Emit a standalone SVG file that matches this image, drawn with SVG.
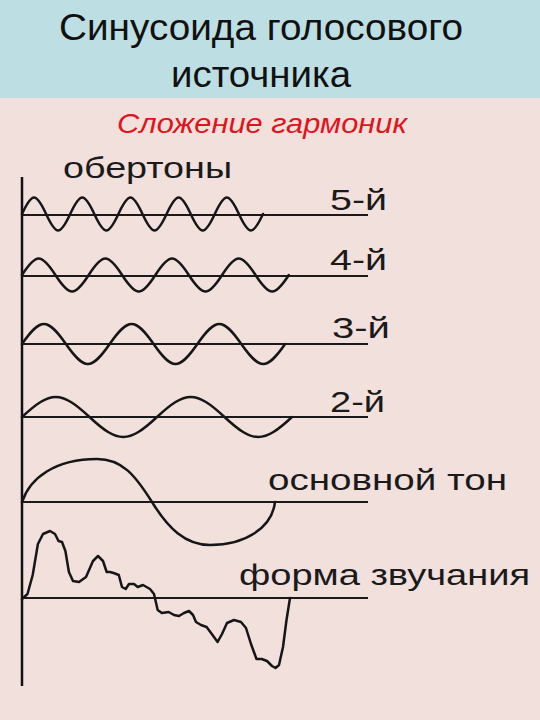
<svg xmlns="http://www.w3.org/2000/svg" width="540" height="720" viewBox="0 0 540 720">
<style>
.title{font-family:"Liberation Sans",Arial,sans-serif;font-size:37px;fill:#111}
.sub{font-family:"Liberation Sans",Arial,sans-serif;font-size:28px;font-style:italic;fill:#e0141c}
.lbl{font-family:"Liberation Sans",Arial,sans-serif;font-size:30px;fill:#1a1a1a}
.axis{stroke:#111;stroke-width:2.5;fill:none}
.base{stroke:#1a1a1a;stroke-width:2;fill:none}
.wave{stroke:#161616;stroke-width:2.5;fill:none;stroke-linejoin:round;stroke-linecap:round}
</style>
<rect x="0" y="0" width="540" height="720" fill="#f2e0dc"/>
<rect x="0" y="0" width="540" height="98" fill="#bddfe4"/>
<g id="title">
<text class="title" x="59" y="40" textLength="404" lengthAdjust="spacingAndGlyphs">Синусоида голосового</text>
<text class="title" x="171" y="87" textLength="180" lengthAdjust="spacingAndGlyphs">источника</text>
</g>
<g id="subtitle">
<text class="sub" x="117" y="133" textLength="290" lengthAdjust="spacingAndGlyphs">Сложение гармоник</text>
</g>
<g id="axis">
<line class="axis" x1="22" y1="177" x2="22" y2="686"/>
</g>
<g id="connectors">
<line class="base" x1="22" y1="215" x2="368" y2="215"/>
<line class="base" x1="22" y1="276" x2="368" y2="276"/>
<line class="base" x1="22" y1="344" x2="368" y2="344"/>
<line class="base" x1="22" y1="417" x2="368" y2="417"/>
<line class="base" x1="22" y1="502" x2="368" y2="502"/>
<line class="base" x1="22" y1="598" x2="368" y2="598"/>
</g>
<g id="overtones-label">
<text class="lbl" x="63" y="178" textLength="169" lengthAdjust="spacingAndGlyphs">обертоны</text>
</g>
<g id="harmonic5">
<path class="wave" d="M22,214 C32.2,192 35.9,192 46.1,214 S60,236 70.2,214 S84.1,192 94.3,214 S108.2,236 118.4,214 S132.3,192 142.5,214 S156.4,236 166.6,214 S180.5,192 190.7,214 S204.6,236 214.8,214 S228.7,192 238.9,214 S252.8,236 263,214"/>
<text class="lbl" x="330" y="210" textLength="57" lengthAdjust="spacingAndGlyphs">5-й</text>
</g>
<g id="harmonic4">
<path class="wave" d="M22,275 C36.2,253 41.2,253 55.4,275 S74.6,297 88.7,275 S107.9,253 122.1,275 S141.3,297 155.4,275 S174.6,253 188.8,275 S208,297 222.1,275 S241.3,253 255.5,275 S274.7,297 288.8,275"/>
<text class="lbl" x="330" y="270" textLength="57" lengthAdjust="spacingAndGlyphs">4-й</text>
</g>
<g id="harmonic3">
<path class="wave" d="M22,344 C40.6,317.3 47.2,317.3 65.9,344 S91.1,370.7 109.7,344 S135,317.3 153.6,344 S178.8,370.7 197.4,344 S222.6,317.3 241.3,344 S266.5,370.7 285.1,344"/>
<text class="lbl" x="332" y="338" textLength="58" lengthAdjust="spacingAndGlyphs">3-й</text>
</g>
<g id="harmonic2">
<path class="wave" d="M22,417 C50.6,390.3 60.9,390.3 89.5,417 S128.4,443.7 157,417 S195.9,390.3 224.5,417 S263.4,443.7 292,417"/>
<text class="lbl" x="330" y="412" textLength="55" lengthAdjust="spacingAndGlyphs">2-й</text>
</g>
<g id="fundamental">
<path class="wave" d="M22,502 C30,478 55,459 97,459 C122,459 135,475 152,502 C168,528 185,545 210,545 C245,545 272,528 275,502"/>
<text class="lbl" x="268" y="490" textLength="239" lengthAdjust="spacingAndGlyphs">основной тон</text>
</g>
<g id="soundform">
<path class="wave" d="M22,599 L27.5,594 L32.7,575 L37.9,544 L43,534 L50,531 L55,534 L58.5,541 L62,542 L65.4,551 L68.9,572 L73,581 L79,582 L86,577 L93,561 L98,556 L103,561 L106.7,572 L110,572 L113.6,573 L118.8,575 L122,587 L125.7,589 L129,584 L134,584 L137.7,587 L143,585 L150,589 L154,594 L157.7,610 L161.8,613 L168.7,612 L174,615 L179,616 L184,613 L189,611 L193,615 L196,622 L201,625 L206.6,627 L211.8,634 L217.6,642 L222,634 L227,623 L234,620 L241,622 L246,628 L251,644 L256.5,659 L261.7,659 L267,661 L272,666 L275.5,668 L279,665 L283,647 L286.5,620 L290,598"/>
<text class="lbl" x="239" y="585" textLength="291" lengthAdjust="spacingAndGlyphs">форма звучания</text>
</g>
</svg>
